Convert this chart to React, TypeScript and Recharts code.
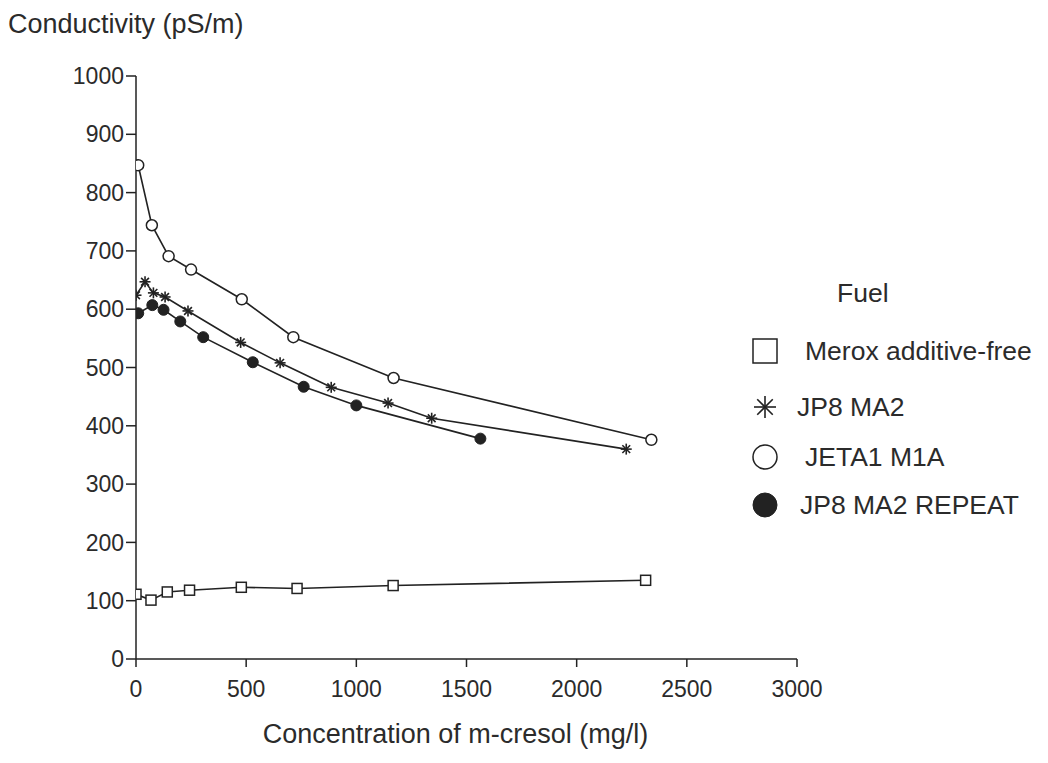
import React from "react";
import { LineChart, Line, XAxis, YAxis } from "recharts";

// concentration of m-cresol (mg/l) and conductivity (pS/m)
const meroxConc = [0, 68, 142, 243, 478, 731, 1167, 2313];
const meroxCond = [111, 101, 115, 118, 123, 121, 126, 135];

const jp8Conc = [0, 41, 79, 132, 236, 475, 654, 886, 1144, 1342, 2225];
const jp8Cond = [624, 647, 628, 621, 597, 543, 508, 466, 439, 413, 360];

const jetaConc = [10, 72, 148, 250, 480, 714, 1169, 2339];
const jetaCond = [847, 744, 691, 668, 617, 552, 482, 376];

const repeatConc = [10, 74, 125, 201, 305, 530, 761, 1000, 1563];
const repeatCond = [593, 607, 599, 579, 552, 509, 467, 435, 378];

const xTicks = [0, 500, 1000, 1500, 2000, 2500, 3000];
const yTicks = [0, 100, 200, 300, 400, 500, 600, 700, 800, 900, 1000];

const seriesNames = ["Merox additive-free", "JP8 MA2", "JETA1 M1A", "JP8 MA2 REPEAT"];

const toRows = (xs: number[], ys: number[]) => xs.map((x, i) => ({ conc: x, cond: ys[i] }));

const INK = "#222";
const TEXT = "#2b2b2b";
const FONT = "'Liberation Sans', Arial, sans-serif";

function Marker({ kind, cx, cy, s }: { kind: number; cx: number; cy: number; s: number }) {
  const h = s / 2;
  if (kind === 0)
    return <rect x={cx - h} y={cy - h} width={s} height={s} fill="#fff" stroke={INK} strokeWidth={1.5} />;
  if (kind === 2) return <circle cx={cx} cy={cy} r={h} fill="#fff" stroke={INK} strokeWidth={1.5} />;
  if (kind === 3) return <circle cx={cx} cy={cy} r={h} fill={INK} stroke={INK} strokeWidth={1} />;
  const d = h * 0.707;
  return (
    <g stroke={INK} strokeWidth={1.6}>
      <line x1={cx} y1={cy - h} x2={cx} y2={cy + h} />
      <line x1={cx - h} y1={cy} x2={cx + h} y2={cy} />
      <line x1={cx - d} y1={cy - d} x2={cx + d} y2={cy + d} />
      <line x1={cx - d} y1={cy + d} x2={cx + d} y2={cy - d} />
    </g>
  );
}

const dotFor = (kind: number, size: number) => (p: any) => {
  if (p.cx == null || p.cy == null) return <g key={`k${kind}-${p.index}`} />;
  return (
    <g key={`k${kind}-${p.index}`}>
      <Marker kind={kind} cx={p.cx} cy={p.cy} s={size} />
    </g>
  );
};

function FuelLegend() {
  const rows = [0, 1, 2, 3];
  const textLeft = [31, 23, 31, 26];
  const rowTop = [66, 122, 172, 220];
  return (
    <div
      style={{
        position: "absolute",
        left: 720,
        top: 262,
        width: 320,
        height: 260,
        fontFamily: FONT,
        color: TEXT,
        fontSize: 26.5,
      }}
    >
      <div style={{ position: "absolute", left: 109, top: 8, lineHeight: "30px" }}>Fuel</div>
      {rows.map((k) => (
        <div key={k} style={{ position: "absolute", left: 0, top: rowTop[k], height: 30, width: 320 }}>
          <svg width={30} height={30} style={{ position: "absolute", left: 22, top: 0 }}>
            <Marker kind={k} cx={15} cy={15} s={k === 1 ? 22 : 24} />
          </svg>
          <span style={{ position: "absolute", left: 46 + textLeft[k], top: 0, lineHeight: "30px", whiteSpace: "nowrap" }}>
            {seriesNames[k]}
          </span>
        </div>
      ))}
    </div>
  );
}

export default function App() {
  return (
    <div style={{ position: "relative", width: 1032, height: 747, background: "#fff" }}>
      <div
        style={{
          position: "absolute",
          left: 0,
          top: 3,
          fontFamily: FONT,
          fontSize: 27,
          lineHeight: "26px",
          color: TEXT,
        }}
      >
        Conductivity (pS/m)
      </div>
      <LineChart width={1032} height={747} margin={{ top: 68, right: 243, left: 58, bottom: 0 }}>
        <XAxis
          dataKey="conc"
          type="number"
          domain={[0, 3000]}
          ticks={xTicks}
          allowDataOverflow
          height={96}
          tickSize={8}
          tickMargin={14}
          stroke={INK}
          strokeWidth={1.5}
          tick={{ fill: TEXT, fontSize: 23, fontFamily: FONT }}
          label={{
            value: "Concentration of m-cresol (mg/l)",
            position: "insideBottom",
            offset: 12,
            dx: -11,
            fill: TEXT,
            fontSize: 27,
            fontFamily: FONT,
          }}
        />
        <YAxis
          dataKey="cond"
          type="number"
          domain={[0, 1000]}
          ticks={yTicks}
          width={70}
          tickSize={10}
          tickMargin={2}
          stroke={INK}
          strokeWidth={1.5}
          tick={{ fill: TEXT, fontSize: 23, fontFamily: FONT }}
        />
        <Line
          data={toRows(meroxConc, meroxCond)}
          dataKey="cond"
          name={seriesNames[0]}
          type="linear"
          stroke={INK}
          strokeWidth={1.6}
          dot={dotFor(0, 10)}
          isAnimationActive={false}
        />
        <Line
          data={toRows(jp8Conc, jp8Cond)}
          dataKey="cond"
          name={seriesNames[1]}
          type="linear"
          stroke={INK}
          strokeWidth={1.6}
          dot={dotFor(1, 11)}
          isAnimationActive={false}
        />
        <Line
          data={toRows(jetaConc, jetaCond)}
          dataKey="cond"
          name={seriesNames[2]}
          type="linear"
          stroke={INK}
          strokeWidth={1.6}
          dot={dotFor(2, 11)}
          isAnimationActive={false}
        />
        <Line
          data={toRows(repeatConc, repeatCond)}
          dataKey="cond"
          name={seriesNames[3]}
          type="linear"
          stroke={INK}
          strokeWidth={1.6}
          dot={dotFor(3, 11)}
          isAnimationActive={false}
        />
      </LineChart>
      <FuelLegend />
    </div>
  );
}
